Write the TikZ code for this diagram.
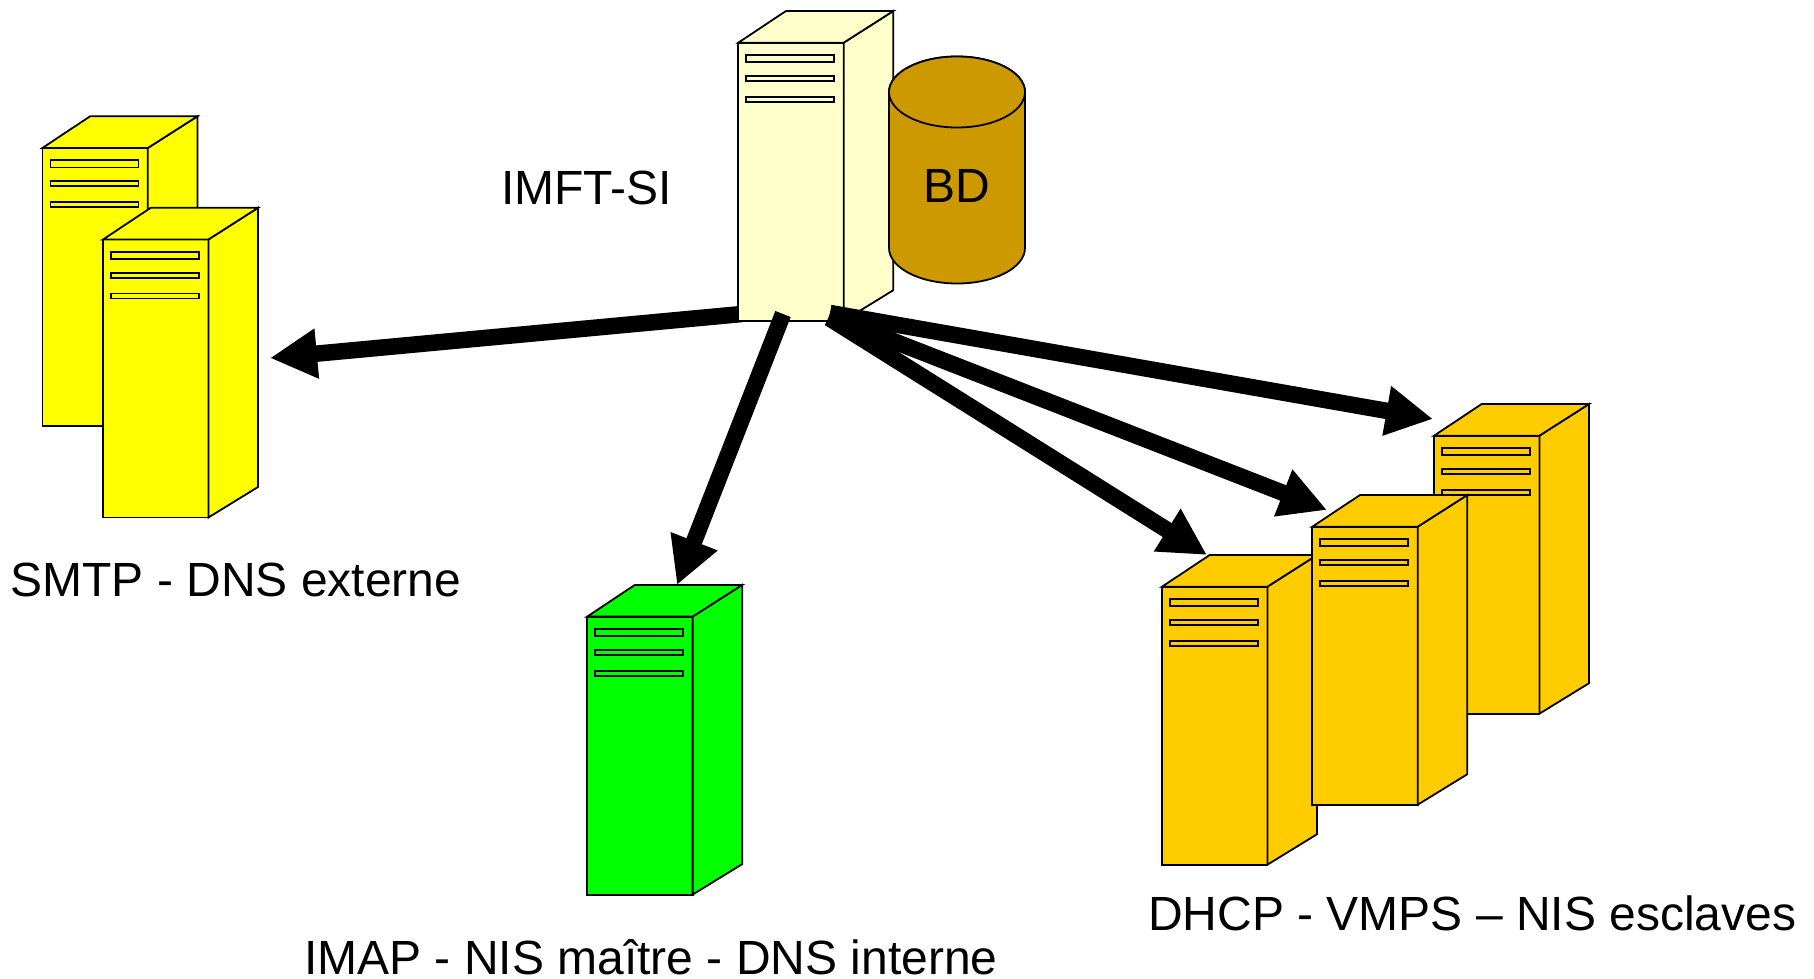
\documentclass[tikz,border=0pt]{standalone}
\usepackage{fontspec}
\setmainfont{Liberation Sans}
\usetikzlibrary{arrows.meta}
\definecolor{cream}{HTML}{FFFFCC}
\definecolor{srvyellow}{HTML}{FFFF00}
\definecolor{srvgreen}{HTML}{00FF00}
\definecolor{srvorange}{HTML}{FFCC00}
\definecolor{dbbrown}{HTML}{CC9900}
\newcommand{\srvbox}[3]{%
  \begin{scope}[shift={(#1,#2)},fill=#3,outline]
    \filldraw (0,0) -- (105.4,0) -- (105.4,278) -- (0,278) -- cycle;
    \filldraw (105.4,0) -- (155,-31.7) -- (155,247.5) -- (105.4,278) -- cycle;
    \filldraw (0,0) -- (47.7,-31.7) -- (155,-31.7) -- (105.4,0) -- cycle;
    \filldraw (8,12.3) rectangle (96,19.5);
    \filldraw (8,33.3) rectangle (96,38.3);
    \filldraw (8,54) rectangle (96,59);
  \end{scope}}
\tikzset{
  outline/.style={draw=black,line width=1.8pt,line join=miter},
  label/.style={anchor=base west,inner sep=0pt,font=\fontsize{48}{52}\selectfont},
  bigarrow/.style={line width=16.5pt,-{Triangle[length=47pt,width=47pt]}}
}
\begin{document}
\begin{tikzpicture}[x=1pt,y=-1pt]
\useasboundingbox (0,0) rectangle (1814,979);
\coordinate (srcL) at (742,314);
\coordinate (srcB) at (783,314);
\coordinate (srcR1) at (829,318);
\coordinate (srcR2) at (829,316);
\coordinate (srcR3) at (830,313);
\coordinate (tipSmtp) at (270,358);
\coordinate (tipImap) at (677,585);
\coordinate (tipO1) at (1207,555);
\coordinate (tipO2) at (1327,510);
\coordinate (tipO3) at (1433,419);
\draw[bigarrow] (srcL) -- (tipSmtp);
\srvbox{738.3}{42.7}{cream}
\begin{scope}[outline,fill=dbbrown]
  \filldraw (889,92) -- (889,248) arc[start angle=180,end angle=0,x radius=68,y radius=35.5] -- (1025,92) arc[start angle=0,end angle=-180,x radius=68,y radius=35.5] -- cycle;
  \filldraw (957,92) ellipse[x radius=68,y radius=35.5];
\end{scope}
\node[label,anchor=base] (bd) at (957,202) {BD};
\node[label] (imft) at (501,204) {IMFT-SI};
\srvbox{42.4}{148}{srvyellow}
\srvbox{103}{239.5}{srvyellow}
\node[label] (smtp) at (10.4,596) {SMTP - DNS externe};
\srvbox{587.2}{616.6}{srvgreen}
\node[label] (imap) at (304,974) {IMAP - NIS maître - DNS interne};
\srvbox{1434}{435.7}{srvorange}
\srvbox{1162}{586.7}{srvorange}
\srvbox{1312.3}{526.7}{srvorange}
\node[label] (dhcp) at (1148,930) {DHCP - VMPS – NIS esclaves};
\draw[bigarrow] (srcB) -- (tipImap);
\draw[bigarrow] (srcR1) -- (tipO1);
\draw[bigarrow] (srcR2) -- (tipO2);
\draw[bigarrow] (srcR3) -- (tipO3);
\end{tikzpicture}
\end{document}
